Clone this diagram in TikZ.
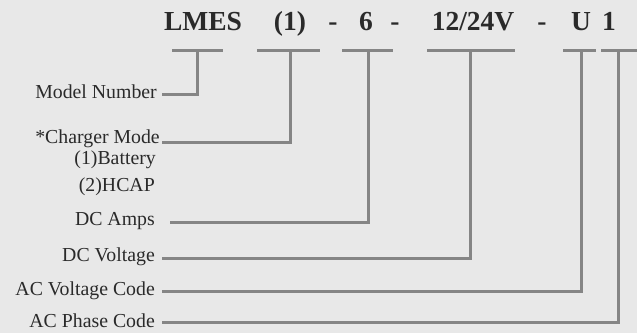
\documentclass[tikz,border=0pt]{standalone}
\usepackage{fontspec}
\setmainfont{Liberation Serif}
\definecolor{bg}{HTML}{E8E8E8}
\definecolor{ln}{HTML}{858585}
\definecolor{tx}{HTML}{2A2A2A}
\begin{document}
\begin{tikzpicture}[x=1pt,y=-1pt,
  part/.style={anchor=base,inner sep=0pt,text=tx,font=\fontsize{27.5}{27.5}\selectfont\bfseries},
  lbl/.style={anchor=base east,inner sep=0pt,text=tx,font=\fontsize{19.8}{19.8}\selectfont},
  bar/.style={draw=ln,line width=3pt},
  conn/.style={draw=ln,line width=3pt}]
\fill[bg] (0,0) rectangle (637,333);
\useasboundingbox (0,0) rectangle (637,333);
% title parts
\node[part] (p1) at (203,30) {LMES};
\node[part] (p2) at (290,30) {(1)};
\node[part] (d1) at (333,30) {-};
\node[part] (p3) at (366,30) {6};
\node[part] (d2) at (395,30) {-};
\node[part] (p4) at (473,30) {12/24V};
\node[part] (d3) at (542,30) {-};
\node[part] (p5) at (581,30) {U};
\node[part] (p6) at (609,30) {1};
% bars
\coordinate (b1l) at (172,50); \coordinate (b1r) at (223,50); \coordinate (b1) at (197,50);
\coordinate (b2l) at (257,50); \coordinate (b2r) at (320,50); \coordinate (b2) at (290,50);
\coordinate (b3l) at (342,50); \coordinate (b3r) at (393,50); \coordinate (b3) at (368,50);
\coordinate (b4l) at (427,50); \coordinate (b4r) at (515,50); \coordinate (b4) at (470,50);
\coordinate (b5l) at (563,50); \coordinate (b5r) at (596,50); \coordinate (b5) at (581,50);
\coordinate (b6l) at (601,50); \coordinate (b6r) at (637,50); \coordinate (b6) at (618,50);
\foreach \i in {1,...,6}{\draw[bar] (b\i l) -- (b\i r);}
% labels
\node[lbl] (l1) at (157,98) {Model Number};
\node[lbl] (l2) at (160,143) {*Charger Mode};
\node[lbl] (l2a) at (156,164) {(1)Battery};
\node[lbl] (l2b) at (155,191) {(2)HCAP};
\node[lbl] (l3) at (155,225) {DC Amps};
\node[lbl] (l4) at (155,261) {DC Voltage};
\node[lbl] (l5) at (155,295) {AC Voltage Code};
\node[lbl] (l6) at (155,327) {AC Phase Code};
% connectors
\coordinate (e1) at (162,94);
\coordinate (e2) at (162,142);
\coordinate (e3) at (170,222);
\coordinate (e4) at (162,258);
\coordinate (e5) at (162,291);
\coordinate (e6) at (162,322);
\draw[conn] (b1) |- (e1);
\draw[conn] (b2) |- (e2);
\draw[conn] (b3) |- (e3);
\draw[conn] (b4) |- (e4);
\draw[conn] (b5) |- (e5);
\draw[conn] (b6) |- (e6);
\end{tikzpicture}
\end{document}
